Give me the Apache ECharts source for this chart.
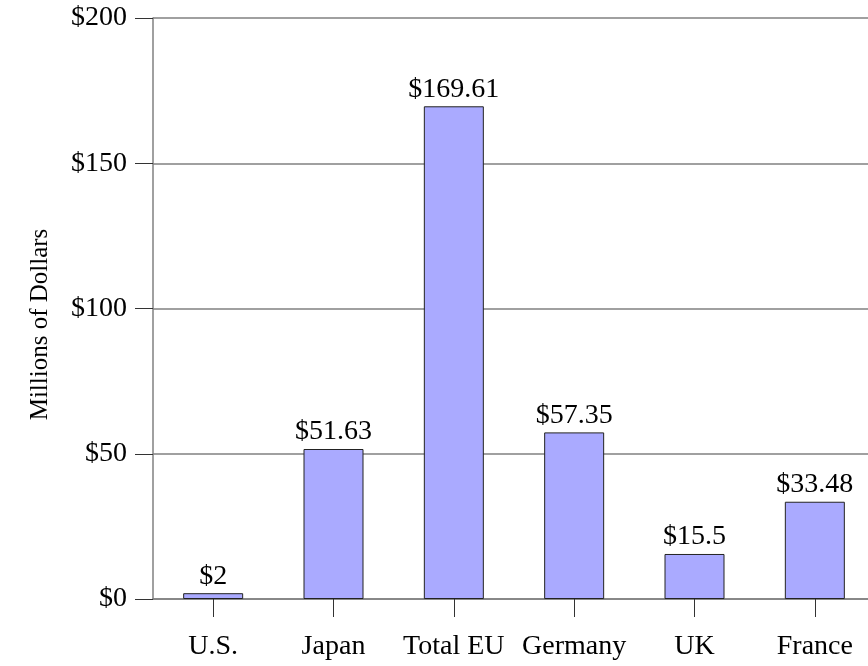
<!DOCTYPE html>
<html>
<head>
<meta charset="utf-8">
<script src="https://cdn.jsdelivr.net/npm/echarts@6/dist/echarts.min.js"></script>
<style>
  html, body { margin: 0; padding: 0; background: #fff; }
  #chart { width: 868px; height: 666px; }
</style>
</head>
<body>
<div id="chart"></div>
<script>
const categories = ["U.S.", "Japan", "Total EU", "Germany", "UK", "France"];
const values = [2, 51.63, 169.61, 57.35, 15.5, 33.48];
const yTicks = [0, 50, 100, 150, 200];

const font = "Liberation Serif";
const chart = echarts.init(document.getElementById("chart"), null, { renderer: "canvas" });

const option = {
  animation: false,
  backgroundColor: "#ffffff",
  grid: { left: 153, right: -7, top: 18, bottom: 67, outerBoundsMode: "none", containLabel: false },
  xAxis: {
    type: "category",
    data: categories,
    axisLine: { lineStyle: { color: "#808080", width: 1.5 } },
    axisTick: { show: true, alignWithLabel: true, interval: 0, length: 18, lineStyle: { color: "#333", width: 1 } },
    axisLabel: { color: "#000", fontFamily: font, fontSize: 28, margin: 34, interval: 0 }
  },
  yAxis: {
    type: "value",
    min: yTicks[0],
    max: yTicks[yTicks.length - 1],
    interval: 50,
    name: "Millions of Dollars",
    nameLocation: "middle",
    nameGap: 100,
    nameRotate: 90,
    nameTextStyle: { color: "#000", fontFamily: font, fontSize: 25, padding: [0, 32, 0, 0] },
    axisLine: { show: true, lineStyle: { color: "#808080", width: 1.5 } },
    axisTick: { show: true, length: 18, lineStyle: { color: "#333" } },
    axisLabel: {
      color: "#000", fontFamily: font, fontSize: 28, margin: 26,
      formatter: v => "$" + v
    },
    splitLine: { lineStyle: { color: "#808080", width: 1.5 } }
  },
  series: [{
    type: "bar",
    data: values,
    barWidth: 60,
    itemStyle: { color: "#aaaaff", borderColor: "#222", borderWidth: 1 },
    label: {
      show: true,
      position: "top",
      distance: 3,
      color: "#000",
      fontFamily: font,
      fontSize: 28,
      formatter: p => "$" + p.value
    }
  }]
};

chart.setOption(option);
</script>
</body>
</html>
